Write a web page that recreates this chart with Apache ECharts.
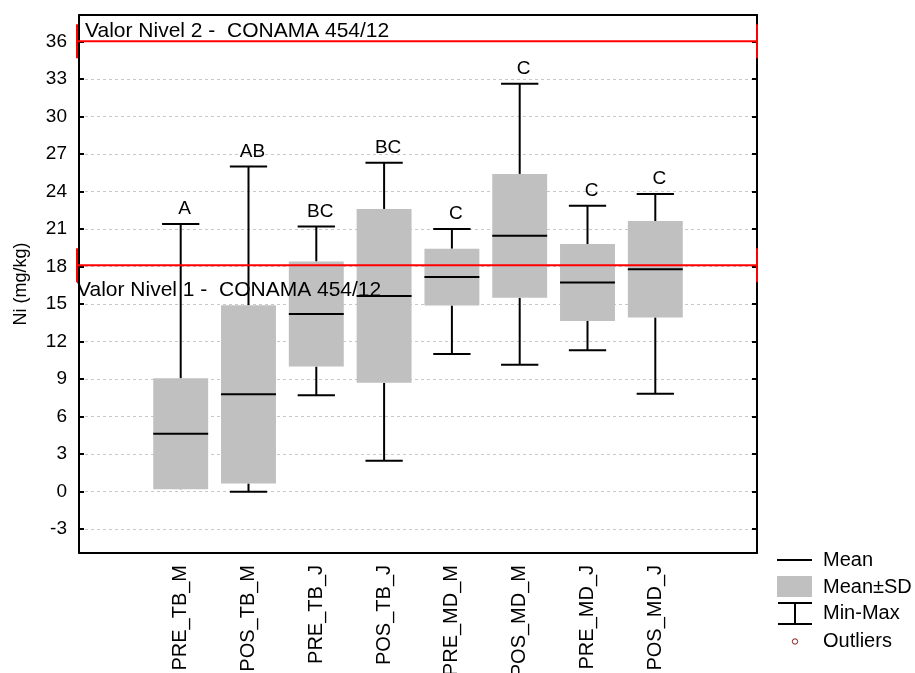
<!DOCTYPE html>
<html>
<head>
<meta charset="utf-8">
<title>Ni (mg/kg)</title>
<script src="https://cdn.jsdelivr.net/npm/echarts@6/dist/echarts.min.js"></script>
<style>
html, body { margin: 0; padding: 0; background: #fff; }
#chart { width: 915px; height: 673px; }
</style>
</head>
<body>
<div id="chart"></div>
<script>
// x slots (empty ones at both ends, as in the original plot)
const categories = ['', 'PRE_TB_M', 'POS_TB_M', 'PRE_TB_J', 'POS_TB_J', 'PRE_MD_M', 'POS_MD_M', 'PRE_MD_J', 'POS_MD_J', ''];
const means = [4.63, 7.78, 14.2, 15.65, 17.15, 20.45, 16.72, 17.78];
const sds = [4.43, 7.12, 4.2, 6.95, 2.27, 4.95, 3.07, 3.85];
const mins = [0.5, 0.0, 7.7, 2.48, 11.0, 10.15, 11.3, 7.83];
const maxs = [21.4, 26.0, 21.2, 26.3, 21.0, 32.6, 22.85, 23.8];
const letters = ['A', 'AB', 'BC', 'BC', 'C', 'C', 'C', 'C'];
const yTicks = [-3, 0, 3, 6, 9, 12, 15, 18, 21, 24, 27, 30, 33, 36];
const refValues = [36, 18.1];
const refLabels = ['Valor Nivel 2 -  CONAMA 454/12', 'Valor Nivel 1 -  CONAMA 454/12'];

const FONT = 'Liberation Sans, Arial, sans-serif';
const GRAY = '#c0c0c0';

const boxData = means.map((m, i) => [i + 1, m, sds[i], mins[i], maxs[i]]);
const refData = refValues.map(v => [0, v]);

function renderBox(params, api) {
    const x = api.value(0);
    const mean = api.value(1), sd = api.value(2);
    const lo = api.value(3), hi = api.value(4);
    const cx = api.coord([x, mean])[0];
    const slot = api.size([1, 0])[0];
    const bw = slot * 0.81, cw = slot * 0.55;
    const yMean = api.coord([x, mean])[1];
    const yTop = api.coord([x, mean + sd])[1];
    const yBot = api.coord([x, mean - sd])[1];
    const yMax = api.coord([x, hi])[1];
    const yMin = api.coord([x, lo])[1];
    const ls = { stroke: '#000', lineWidth: 2 };
    const seg = (x1, y1, x2, y2) => ({ type: 'line', shape: { x1, y1, x2, y2 }, style: ls });
    return {
        type: 'group',
        children: [
            seg(cx, yMax, cx, yTop),
            seg(cx - cw / 2, yMax, cx + cw / 2, yMax),
            seg(cx, yMin, cx, yBot),
            seg(cx - cw / 2, yMin, cx + cw / 2, yMin),
            { type: 'rect', shape: { x: cx - bw / 2, y: yTop, width: bw, height: yBot - yTop }, style: { fill: GRAY } },
            seg(cx - bw / 2, yMean, cx + bw / 2, yMean),
            {
                type: 'text', x: cx + 4, y: yMax - 15,
                style: { text: letters[params.dataIndex], fill: '#000', font: '19px ' + FONT, align: 'center', verticalAlign: 'middle' }
            }
        ]
    };
}

function renderRef(params, api) {
    const cs = params.coordSys;
    const y = api.coord([0, api.value(1)])[1];
    const x0 = cs.x - 2, x1 = cs.x + cs.width;
    const red = { stroke: '#ff0000', lineWidth: 2 };
    const above = params.dataIndex === 0;
    return {
        type: 'group',
        children: [
            { type: 'line', shape: { x1: x0, y1: y, x2: x1, y2: y }, style: red },
            { type: 'line', shape: { x1: x0, y1: y - 17, x2: x0, y2: y + 17 }, style: red },
            { type: 'line', shape: { x1: x1, y1: y - 17, x2: x1, y2: y + 17 }, style: red },
            {
                type: 'text', x: above ? cs.x + 6 : cs.x - 2, y: above ? y - 10 : y + 25,
                style: { text: refLabels[params.dataIndex], fill: '#000', font: '21px ' + FONT, align: 'left', verticalAlign: 'middle' }
            }
        ]
    };
}

const axisLineStyle = { color: '#000', width: 2 };

const option = {
    backgroundColor: '#fff',
    animation: false,
    grid: { left: 79, right: 158, top: 15, bottom: 120, containLabel: false, outerBoundsMode: 'none' },
    xAxis: [{
        type: 'category', data: categories, position: 'bottom',
        axisLine: { onZero: false, lineStyle: axisLineStyle },
        axisTick: { inside: true, length: 5, alignWithLabel: true, interval: 0, lineStyle: axisLineStyle },
        axisLabel: { interval: 0, rotate: 90, margin: 12, color: '#000', fontSize: 20, fontFamily: FONT },
        splitLine: { show: false }
    }, {
        type: 'category', data: categories, position: 'top',
        axisLine: { onZero: false, lineStyle: axisLineStyle },
        axisTick: { inside: true, length: 5, alignWithLabel: true, interval: 0, lineStyle: axisLineStyle },
        axisLabel: { show: false },
        splitLine: { show: false }
    }],
    yAxis: [{
        type: 'value', min: -4.9, max: 38.1, position: 'left',
        name: 'Ni (mg/kg)', nameLocation: 'middle', nameGap: 49,
        nameTextStyle: { color: '#000', fontSize: 18, fontFamily: FONT },
        axisLine: { show: true, onZero: false, lineStyle: axisLineStyle },
        axisTick: { show: true, inside: true, length: 5, customValues: yTicks, lineStyle: axisLineStyle },
        axisLabel: { customValues: yTicks, margin: 12, color: '#000', fontSize: 19, fontFamily: FONT },
        splitLine: { show: true, lineStyle: { color: '#c8c8c8', width: 1, type: [3, 3] } }
    }, {
        type: 'value', min: -4.9, max: 38.1, position: 'right',
        axisLine: { show: true, onZero: false, lineStyle: axisLineStyle },
        axisTick: { show: true, inside: true, length: 5, customValues: yTicks, lineStyle: axisLineStyle },
        axisLabel: { show: false },
        splitLine: { show: false }
    }],
    series: [{
        type: 'custom', name: 'Ni', renderItem: renderBox, data: boxData,
        encode: { x: 0, y: [1, 3, 4] }, xAxisIndex: 0, yAxisIndex: 0
    }, {
        type: 'custom', name: 'CONAMA', renderItem: renderRef, data: refData,
        encode: { x: 0, y: 1 }, xAxisIndex: 0, yAxisIndex: 0, z: 5
    }],
    graphic: [
        { type: 'line', shape: { x1: 777, y1: 560, x2: 812, y2: 560 }, style: { stroke: '#000', lineWidth: 2 } },
        { type: 'rect', shape: { x: 777, y: 576, width: 35, height: 21 }, style: { fill: GRAY } },
        { type: 'line', shape: { x1: 778, y1: 603, x2: 812, y2: 603 }, style: { stroke: '#000', lineWidth: 2 } },
        { type: 'line', shape: { x1: 795, y1: 603, x2: 795, y2: 624 }, style: { stroke: '#000', lineWidth: 2 } },
        { type: 'line', shape: { x1: 778, y1: 624, x2: 812, y2: 624 }, style: { stroke: '#000', lineWidth: 2 } },
        { type: 'circle', shape: { cx: 795, cy: 641.5, r: 2.7 }, style: { stroke: '#8b1a1a', fill: '#fff', lineWidth: 1 } },
        { type: 'text', x: 823, y: 560, style: { text: 'Mean', fill: '#000', font: '20px ' + FONT, verticalAlign: 'middle' } },
        { type: 'text', x: 823, y: 587, style: { text: 'Mean±SD', fill: '#000', font: '20px ' + FONT, verticalAlign: 'middle' } },
        { type: 'text', x: 823, y: 613, style: { text: 'Min-Max', fill: '#000', font: '20px ' + FONT, verticalAlign: 'middle' } },
        { type: 'text', x: 823, y: 641, style: { text: 'Outliers', fill: '#000', font: '20px ' + FONT, verticalAlign: 'middle' } }
    ]
};

const chart = echarts.init(document.getElementById('chart'));
chart.setOption(option);
</script>
</body>
</html>
